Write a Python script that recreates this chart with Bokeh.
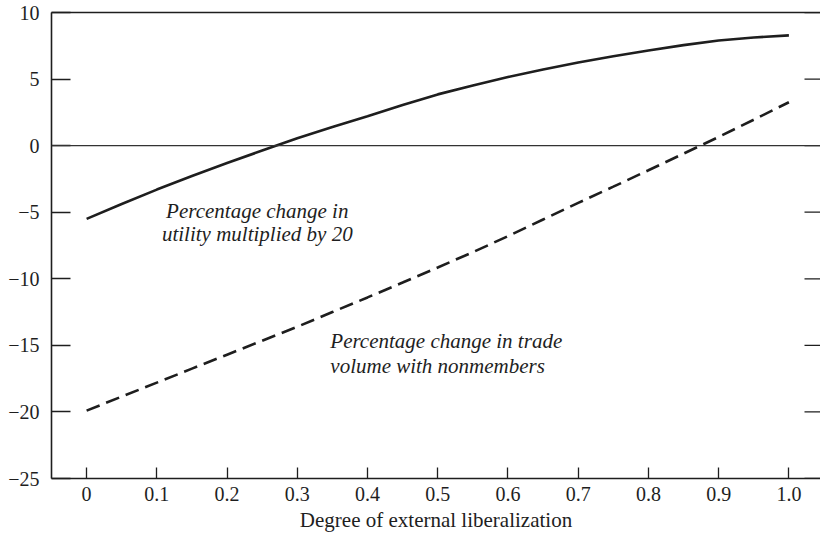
from bokeh.plotting import figure
from bokeh.models import LinearAxis, FixedTicker, Span, Range1d
from bokeh.embed import file_html
from bokeh.resources import INLINE
from bokeh.core.properties import value

# ---- data ----
liberalization = [0.0, 0.05, 0.1, 0.15, 0.2, 0.25, 0.3, 0.35, 0.4, 0.45, 0.5,
                  0.55, 0.6, 0.65, 0.7, 0.75, 0.8, 0.85, 0.9, 0.95, 1.0]
utility_x20 = [-5.5, -4.38, -3.3, -2.28, -1.3, -0.37, 0.55, 1.4, 2.2, 3.05, 3.85,
               4.52, 5.15, 5.72, 6.25, 6.72, 7.15, 7.55, 7.9, 8.12, 8.28]
trade_nonmembers = [-19.9, -18.85, -17.8, -16.75, -15.7, -14.65, -13.6, -12.5, -11.4, -10.28, -9.15,
                    -8.0, -6.8, -5.55, -4.3, -3.08, -1.85, -0.6, 0.65, 1.95, 3.26]

x_ticks = [0.0, 0.1, 0.2, 0.3, 0.4, 0.5, 0.6, 0.7, 0.8, 0.9, 1.0]
x_tick_labels = ["0", "0.1", "0.2", "0.3", "0.4", "0.5", "0.6", "0.7", "0.8", "0.9", "1.0"]
y_ticks = [-25, -20, -15, -10, -5, 0, 5, 10]
y_tick_labels = ["\u221225", "\u221220", "\u221215", "\u221210", "\u22125", "0", "5", "10"]

x_title = "Degree of external liberalization"
note_utility = ["Percentage change in", "utility multiplied by 20"]
note_trade = ["Percentage change in trade", "volume with nonmembers"]

FONT = "Liberation Serif"
INK = "#1e1e1e"
X_START, X_END = -0.05, 1.045
Y_START, Y_END = -25, 10
PX_PER_X = 702.2          # frame pixels per x unit (769 px / 1.095)

p = figure(width=820, height=534, output_backend="svg", toolbar_location=None,
           x_range=Range1d(X_START, X_END), y_range=Range1d(Y_START, Y_END),
           x_axis_type=None, y_axis_type=None,
           min_border_left=51, min_border_right=0, min_border_top=12, min_border_bottom=56)
p.outline_line_color = None
p.xgrid.visible = False
p.ygrid.visible = False
p.background_fill_color = "white"
p.border_fill_color = "white"

# left axis
ya = LinearAxis(ticker=FixedTicker(ticks=y_ticks),
                major_label_overrides={t: l for t, l in zip(y_ticks, y_tick_labels)})
ya.major_tick_in = 19
ya.major_tick_out = 0
ya.minor_tick_line_color = None
ya.axis_line_width = 1.6
ya.axis_line_color = INK
ya.major_tick_line_color = INK
ya.major_tick_line_width = 1.3
ya.major_label_standoff = 12
ya.major_label_text_font = FONT
ya.major_label_text_font_size = "20px"
ya.major_label_text_color = INK
p.add_layout(ya, "left")

# bottom axis
xa = LinearAxis(ticker=FixedTicker(ticks=x_ticks),
                major_label_overrides={t: l for t, l in zip(x_ticks, x_tick_labels)},
                axis_label=x_title)
xa.major_tick_in = 11
xa.major_tick_out = 0
xa.minor_tick_line_color = None
xa.axis_line_width = 1.6
xa.axis_line_color = INK
xa.major_tick_line_color = INK
xa.major_tick_line_width = 1.3
xa.major_label_standoff = 8
xa.major_label_text_font = FONT
xa.major_label_text_font_size = "20px"
xa.major_label_text_color = INK
xa.axis_label_text_font = FONT
xa.axis_label_text_font_style = "normal"
xa.axis_label_text_font_size = "21px"
xa.axis_label_text_color = INK
xa.axis_label_standoff = 4
p.add_layout(xa, "below")

# top frame line
ta = LinearAxis(ticker=FixedTicker(ticks=[]))
ta.major_tick_line_color = None
ta.minor_tick_line_color = None
ta.major_label_text_font_size = "0px"
ta.axis_line_width = 1.6
ta.axis_line_color = INK
p.add_layout(ta, "above")

# right-side inward ticks (same tick list as the left axis)
tick_len = 16 / PX_PER_X
p.segment(x0=[X_END - tick_len] * len(y_ticks), y0=y_ticks,
          x1=[X_END] * len(y_ticks), y1=y_ticks,
          line_color=INK, line_width=1.3)

# zero line
p.add_layout(Span(location=0, dimension="width", line_color="#333333", line_width=1.2))

# curves
p.line(liberalization, utility_x20, line_color=INK, line_width=2.6)
p.line(liberalization, trade_nonmembers, line_color=INK, line_width=2.6, line_dash="14 7")

# annotations
p.text(x=[0.243, 0.243], y=[-4.89, -6.6], text=note_utility,
       text_align="center", text_baseline="alphabetic",
       text_font=value(FONT), text_font_style="italic", text_font_size="21px", text_color=INK)
p.text(x=[0.347, 0.347], y=[-14.67, -16.55], text=note_trade,
       text_align="left", text_baseline="alphabetic",
       text_font=value(FONT), text_font_style="italic", text_font_size="21px", text_color=INK)

open("out.html", "w").write(file_html(p, INLINE))
